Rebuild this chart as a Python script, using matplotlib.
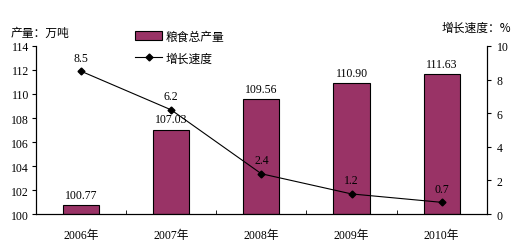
import matplotlib
matplotlib.use("Agg")
import matplotlib.pyplot as plt
from matplotlib.lines import Line2D
from matplotlib.patches import Patch

plt.rcParams["font.family"] = ["Liberation Serif", "Noto Sans CJK SC", "DejaVu Sans"]

years = ["2006年", "2007年", "2008年", "2009年", "2010年"]
output = [100.77, 107.03, 109.56, 110.90, 111.63]
output_labels = ["100.77", "107.03", "109.56", "110.90", "111.63"]
growth = [8.5, 6.2, 2.4, 1.2, 0.7]

bar_color = "#993366"
fs = 8.5

fig = plt.figure(figsize=(5.19, 2.51), dpi=100)
ax = fig.add_axes([0.069, 0.143, 0.869, 0.670])
x = list(range(len(years)))

ax.bar(x, [v - 100 for v in output], bottom=100, width=0.4,
       color=bar_color, edgecolor="black", linewidth=0.8, zorder=2)
for xi, v, lab in zip(x, output, output_labels):
    ax.text(xi, v + 0.35, lab, ha="center", va="bottom", fontsize=fs)

ax.set_xlim(-0.5, len(years) - 0.5)
ax.set_ylim(100, 114)
ax.set_yticks(range(100, 115, 2))
ax.tick_params(axis="y", direction="out", length=3, labelsize=fs, pad=2)
ax.set_xticks(x)
ax.set_xticklabels(years, fontsize=fs)
ax.tick_params(axis="x", length=0, pad=11)
ax.set_xticks([i + 0.5 for i in x[:-1]], minor=True)
ax.tick_params(axis="x", which="minor", direction="in", length=3)
ax.spines["top"].set_visible(False)
for s in ax.spines.values():
    s.set_linewidth(0.8)

ax2 = ax.twinx()
ax2.plot(x, growth, color="black", linewidth=0.8, marker="D",
         markersize=3.5, zorder=3)
for xi, g in zip(x, growth):
    ax2.text(xi, g + 0.45, f"{g}", ha="center", va="bottom", fontsize=fs)
ax2.set_ylim(0, 10)
ax2.set_yticks(range(0, 11, 2))
ax2.tick_params(axis="y", direction="out", length=3, labelsize=fs, pad=4)
ax2.spines["top"].set_visible(False)
for s in ax2.spines.values():
    s.set_linewidth(0.8)

fig.text(0.02, 0.855, "产量：万吨", fontsize=fs, family=["Noto Sans CJK SC"])
fig.text(0.985, 0.875, "增长速度：%", fontsize=fs, ha="right",
         family=["Noto Sans CJK SC"])

handles = [Patch(facecolor=bar_color, edgecolor="black", linewidth=0.8),
           Line2D([0], [0], color="black", linewidth=0.8, marker="D", markersize=3.5)]
fig.legend(handles, ["粮食总产量", "增长速度"], loc="upper left",
           bbox_to_anchor=(0.24, 0.92), frameon=False,
           prop={"family": "Noto Sans CJK SC", "size": fs},
           handlelength=2.3, handletextpad=0.3, labelspacing=0.75)

fig.savefig("out.png", dpi=100)
